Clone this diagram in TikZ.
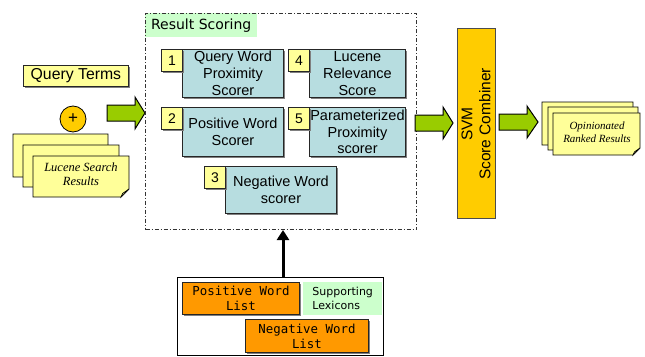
\documentclass[tikz,border=0pt]{standalone}
\usepackage{fontspec}
\newfontfamily\arialf{Liberation Sans}
\newfontfamily\tahf{DejaVu Sans}
\newfontfamily\monof{DejaVu Sans Mono}
\newfontfamily\timesf{Liberation Serif}
\usetikzlibrary{shadows,arrows.meta}
\definecolor{pyellow}{HTML}{FFFF99}
\definecolor{gold}{HTML}{FFCC00}
\definecolor{agreen}{HTML}{99CC00}
\definecolor{lgreen}{HTML}{CCFFCC}
\definecolor{lblue}{HTML}{B7DDE0}
\definecolor{orng}{HTML}{FF9900}
\definecolor{foldc}{HTML}{D9D98C}
\newcommand\docsheet[5]{%
  \draw[fill=pyellow,line width=0.8pt] (#1,#2) -- (#3,#2) -- (#3,#4-#5) -- (#3-#5,#4) -- (#1,#4) -- cycle;
  \draw[fill=foldc,line width=0.6pt] (#3,#4-#5) -- (#3-#5,#4) -- (#3-0.8*#5,#4-0.45*#5) -- cycle;}
\newcommand\blockarrow[4]{% tail x, head base x, tip x, center y
  \draw[fill=agreen,line width=1pt,line join=miter] (#1,#4-8) -- (#2,#4-8) -- (#2,#4-16) -- (#3,#4) -- (#2,#4+16) -- (#2,#4+8) -- (#1,#4+8) -- cycle;}
\begin{document}
\begin{tikzpicture}[x=1pt,y=-1pt,
  shd/.style={drop shadow={shadow xshift=1.3pt,shadow yshift=-1.3pt,fill=black!50,opacity=1}},
  scorer/.style={draw=black!85,line width=0.9pt,fill=lblue,shd,anchor=north west,inner sep=0pt,align=center,font=\arialf\fontsize{14.5}{16.8}\selectfont},
  numbox/.style={draw=black!85,line width=0.9pt,fill=pyellow,shd,anchor=north west,minimum width=21,minimum height=22,inner sep=0pt,font=\arialf\fontsize{14}{16}\selectfont},
  listbox/.style={draw=black!85,line width=0.9pt,fill=orng,shd,anchor=north west,inner sep=0pt,align=center,font=\monof\fontsize{12.4}{15}\selectfont},
  docfont/.style={align=center,inner sep=0pt,font=\timesf\itshape\fontsize{12.5}{14}\selectfont},
  dashdot/.style={dash pattern=on 4pt off 2pt on 1pt off 2pt}
]
\useasboundingbox (0,0) rectangle (645,356);

% Query terms + search results
\node[draw=black!85,line width=0.8pt,fill=pyellow,shd,anchor=north west,minimum width=105,minimum height=21,inner sep=0pt,font=\arialf\fontsize{15.8}{18}\selectfont] (qt) at (23,65) {Query Terms};
\node[circle,draw=black,line width=0.8pt,fill=gold,minimum size=26,inner sep=0pt,font=\arialf\fontsize{17}{18}\selectfont] (plus) at (73,119) {+};
\docsheet{13}{134}{108}{177}{8}
\docsheet{23}{145}{119}{187}{8}
\docsheet{33}{156}{129}{197}{8}
\node[docfont] (lsr) at (81,174) {Lucene Search\\Results};

\blockarrow{107}{135}{145}{113}

% Result scoring
\node[fill=lgreen,anchor=north west,minimum width=112,minimum height=24,inner sep=0pt,font=\tahf\fontsize{14}{16}\selectfont] (rstitle) at (145,13) {Result Scoring};
\node[draw=black!80,line width=1pt,dashdot,anchor=north west,minimum width=271,minimum height=216,inner sep=0pt] (rs) at (145,13) {};

\node[scorer,minimum width=101,minimum height=48] (s1) at (182,49) {Query Word\\Proximity\\Scorer};
\node[numbox] (n1) at (161,49) {1};
\node[scorer,minimum width=96,minimum height=48] (s4) at (309,49) {Lucene\\Relevance\\Score};
\node[numbox] (n4) at (288,49) {4};
\node[scorer,minimum width=101,minimum height=49] (s2) at (182,107) {Positive Word\\Scorer};
\node[numbox] (n2) at (161,107) {2};
\node[scorer,minimum width=96,minimum height=49] (s5) at (309,107) {Parameterized\\Proximity\\scorer};
\node[numbox] (n5) at (288,107) {5};
\node[scorer,minimum width=111,minimum height=47] (s3) at (225,166) {Negative Word\\scorer};
\node[numbox] (n3) at (204,166) {3};

\blockarrow{415}{443}{453}{123}

% SVM
\node[draw=black!70,line width=0.8pt,fill=gold,anchor=north west,minimum width=38,minimum height=190,inner sep=0pt] (svm) at (457,28) {};
\node[rotate=90,align=center,inner sep=0pt,font=\arialf\fontsize{15.5}{18}\selectfont] (svmt) at (476,124) {SVM\\Score Combiner};

\blockarrow{499}{527}{538}{122}

% Opinionated ranked results
\docsheet{542}{102}{633}{145}{7}
\docsheet{548}{107}{638}{150}{7}
\docsheet{553}{113}{640}{155}{7}
\node[docfont,font=\timesf\itshape\fontsize{11}{12.5}\selectfont] (orr) at (597,132) {Opinionated\\Ranked Results};

% Lexicons
\node[draw=black,line width=1.2pt,fill=white,anchor=north west,minimum width=206,minimum height=78,inner sep=0pt] (lex) at (177,277) {};
\node[listbox,minimum width=117,minimum height=32] (pos) at (182,282) {Positive Word\\List};
\node[fill=lgreen,anchor=north west,minimum width=79,minimum height=33,inner sep=0pt,align=left,font=\tahf\fontsize{11}{14}\selectfont] (sup) at (303,282) {Supporting\\Lexicons};
\node[listbox,minimum width=123,minimum height=33] (neg) at (245,319) {Negative Word\\List};

\coordinate (axs) at (283,0);
\draw[line width=3pt,-{Triangle[length=10pt,width=12pt]}] (lex.north -| axs) -- (rs.south -| axs);
\end{tikzpicture}
\end{document}
